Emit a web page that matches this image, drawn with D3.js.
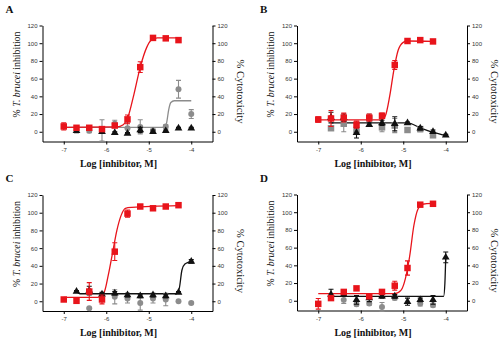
<!DOCTYPE html>
<html lang="en">
<head>
    <meta charset="UTF-8">
    <title>T. brucei inhibition vs cytotoxicity</title>
    <script src="https://d3js.org/d3.v7.min.js"></script>
    <style>
        body { margin: 0; background: #fff; }
        svg { display: block; }
        .tick text { font-family: "Liberation Sans", Arial, sans-serif; font-size: 6px; fill: #333; }
        .axis path, .axis line { stroke: #000; stroke-width: 1px; }
        .lbl { font-family: "Liberation Serif", "Times New Roman", serif; fill: #111; }
    </style>
</head>
<body>
<svg width="499" height="338"></svg>
<script>
    // concentrations (log M), 2-fold dilutions
    const logConc = [-7, -6.7, -6.4, -6.1, -5.8, -5.5, -5.2, -4.9, -4.6, -4.3, -4.0];
    const xTicks = [-7, -6, -5, -4];
    const yTicks = [0, 20, 40, 60, 80, 100, 120];

    // panel A
    const aRed = [6, 4.5, 4.5, 3, 7, 14, 73, 106, 105.5, 103.5, null];
    const aRedErr = [4, 2, 2, 2, 2, 5, 6, 2, 1.5, 2, 0];
    const aGray = [null, null, 1, 1.5, 9, 4, 5.5, 1, 6, 48, 20];
    const aGrayErr = [0, 0, 2, 12, 4, 6, 8, 3, 2, 10, 5];
    const aBlack = [null, 1, null, 0, -1, -2, 2, 0, 1, 4, 4];
    const aBlackErr = [0, 2, 0, 2, 1, 1, 3, 2, 1, 1, 1];
    const aRedFit = [[-7, 5], [-5.75, 5.5], [-5.6, 8], [-5.5, 15], [-5.35, 42], [-5.2, 73], [-5.05, 95], [-4.95, 103], [-4.8, 106], [-4.3, 106]];
    const aGrayFit = [[-7, 5], [-4.62, 5], [-4.58, 10], [-4.53, 25], [-4.48, 33], [-4.4, 35], [-4.0, 35]];

    // panel B
    const bRed = [13.8, 15, 16, 8, 16, 18, 75.5, 102.5, 103.5, 102, null];
    const bRedErr = [3, 9, 5, 4, 4, 3, 5, 2, 1, 2, 0];
    const bGray = [null, 4, 9, 2, 15, 5, 7, 2, 3, -4, null];
    const bGrayErr = [0, 2, 9, 3, 5, 5, 8, 2, 3, 2, 0];
    const bBlack = [null, 16, 16, -1, 8, 10, 9, 10, 4, 0, -4];
    const bBlackErr = [0, 6, 4, 6, 2, 3, 8, 1, 2, 2, 1];
    const bRedFit = [[-7, 13.5], [-5.5, 13.5], [-5.42, 18], [-5.32, 40], [-5.22, 70], [-5.12, 92], [-5.0, 101], [-4.9, 102.5], [-4.3, 102]];
    const bBlackFit = [[-6.7, 10], [-4.9, 10], [-4.6, 4.5], [-4.3, -0.5], [-4.0, -4.5]];

    // panel C
    const cRed = [2, 0.5, 11, 2, 56, 99, 107, 105, 107, 108.5, null];
    const cRedErr = [1, 3, 10, 5, 10, 4, 1.5, 1.5, 1.5, 1.5, 0];
    const cGray = [null, null, -8, 3, 5, 3, -2, 3, 2, 0, -2];
    const cGrayErr = [0, 0, 1, 3, 8, 5, 8, 5, 7, 1, 1];
    const cBlack = [null, 11, 12, 8, 9, 7, 6, 7, 6, 10, 45];
    const cBlackErr = [0, 1, 5, 2, 2, 2, 2, 2, 2, 1, 2];
    const cRedFit = [[-7, 4.5], [-6.2, 4.5], [-6.05, 10], [-5.95, 30], [-5.85, 55], [-5.75, 80], [-5.65, 97], [-5.55, 105], [-5.4, 106], [-4.3, 108]];
    const cBlackFit = [[-6.7, 11], [-6.62, 8.5], [-4.35, 8.5], [-4.28, 15], [-4.22, 35], [-4.15, 42], [-4.0, 45]];

    // panel D
    const dRed = [-3.5, 3, 10, 14, 5, 10, 17, 37, 108.5, 109.5, null];
    const dRedErr = [6, 2, 2, 2, 1, 2, 5, 8, 1.5, 1.5, 0];
    const dGray = [null, null, 1, -4, -3, -7, 3, null, -3, -5, null];
    const dGrayErr = [0, 0, 4, 2, 2, 5, 2, 0, 3, 2, 0];
    const dBlack = [null, 7, 7, 1, 3, 5, 5, -1, 1, 1, 49];
    const dBlackErr = [0, 6, 2, 5, 4, 2, 2, 4, 2, 5, 6];
    const dRedFit = [[-7, 8], [-5.2, 8], [-5.05, 12], [-4.95, 25], [-4.85, 50], [-4.75, 85], [-4.65, 104], [-4.55, 109], [-4.3, 110]];
    const dBlackFit = [[-6.7, 5], [-4.05, 5], [-4.02, 20], [-4.0, 50]];

    const RED = "#e8141b", GRAY = "#8c8c8c", BLACK = "#111";
    const W = 170, H = 116;

    const panels = [
        { tag: "A", left: 42.5, top: 25.5, red: aRed, redErr: aRedErr, gray: aGray, grayErr: aGrayErr, grayShape: "circle",
          black: aBlack, blackErr: aBlackErr, fits: [[aGrayFit, GRAY], [aRedFit, RED]] },
        { tag: "B", left: 297, top: 25.5, red: bRed, redErr: bRedErr, gray: bGray, grayErr: bGrayErr, grayShape: "square",
          black: bBlack, blackErr: bBlackErr, fits: [[bBlackFit, BLACK], [bRedFit, RED]] },
        { tag: "C", left: 42.5, top: 195, red: cRed, redErr: cRedErr, gray: cGray, grayErr: cGrayErr, grayShape: "circle",
          black: cBlack, blackErr: cBlackErr, fits: [[cBlackFit, BLACK], [cRedFit, RED]] },
        { tag: "D", left: 297, top: 194.5, red: dRed, redErr: dRedErr, gray: dGray, grayErr: dGrayErr, grayShape: "circle",
          black: dBlack, blackErr: dBlackErr, fits: [[dBlackFit, BLACK], [dRedFit, RED]] }
    ];

    const svg = d3.select("svg");
    const x = d3.scaleLinear().domain([-7.5, -3.5]).range([0, W]);
    const y = d3.scaleLinear().domain([-11, 120]).range([H, 0]);
    const line = d3.line().x(d => x(d[0])).y(d => y(d[1])).curve(d3.curveMonotoneX);

    panels.forEach(p => {
        const g = svg.append("g").attr("transform", `translate(${p.left},${p.top})`);

        // axes
        g.append("g").attr("class", "axis")
            .call(d3.axisLeft(y).tickValues(yTicks).tickSize(3).tickSizeOuter(0).tickPadding(2));
        g.append("g").attr("class", "axis").attr("transform", `translate(${W},0)`)
            .call(d3.axisRight(y).tickValues(yTicks).tickSize(3).tickSizeOuter(0).tickPadding(2));
        g.append("g").attr("class", "axis").attr("transform", `translate(0,${H})`)
            .call(d3.axisBottom(x).tickValues(xTicks).tickSize(3).tickSizeOuter(0).tickPadding(3)
                .tickFormat(d => String(d)));

        // fitted curves
        p.fits.forEach(([pts, col]) => {
            g.append("path").attr("d", line(pts))
                .attr("fill", "none").attr("stroke", col).attr("stroke-width", 1.3);
        });

        // series: gray, black, red
        const series = [
            { v: p.gray, e: p.grayErr, col: GRAY, shape: p.grayShape },
            { v: p.black, e: p.blackErr, col: BLACK, shape: "triangle" },
            { v: p.red, e: p.redErr, col: RED, shape: "square" }
        ];
        series.forEach(s => {
            const pts = logConc.map((c, i) => ({ c, v: s.v[i], e: s.e[i] })).filter(d => d.v !== null);
            const sg = g.append("g");
            // error bars
            pts.filter(d => d.e > 0).forEach(d => {
                const x0 = x(d.c), y1 = y(d.v + d.e), y2 = y(d.v - d.e);
                sg.append("path")
                    .attr("d", `M${x0},${y1}V${y2}M${x0 - 2.5},${y1}H${x0 + 2.5}M${x0 - 2.5},${y2}H${x0 + 2.5}`)
                    .attr("stroke", s.col).attr("stroke-width", 1.1).attr("fill", "none");
            });
            const sym = s.shape === "square" ? d3.symbolSquare : s.shape === "triangle" ? d3.symbolTriangle : d3.symbolCircle;
            const size = s.shape === "square" ? 42 : s.shape === "triangle" ? 26 : 28;
            sg.selectAll("path.pt").data(pts).join("path").attr("class", "pt")
                .attr("transform", d => `translate(${x(d.c)},${y(d.v)})`)
                .attr("d", d3.symbol(sym, size))
                .attr("fill", s.col);
        });

        // labels
        svg.append("text").attr("class", "lbl")
            .attr("x", p.left - 37).attr("y", p.top - 13)
            .attr("font-size", 11).attr("font-weight", "bold").text(p.tag);

        const yl = svg.append("text").attr("class", "lbl")
            .attr("transform", `translate(${p.left - 23},${p.top + 49}) rotate(-90)`)
            .attr("text-anchor", "middle").attr("font-size", 9.8);
        yl.append("tspan").text("% ");
        yl.append("tspan").attr("font-style", "italic").text("T. brucei");
        yl.append("tspan").text(" inhibition");

        svg.append("text").attr("class", "lbl")
            .attr("transform", `translate(${p.left + W + 24},${p.top + 66}) rotate(90)`)
            .attr("text-anchor", "middle").attr("font-size", 10.5)
            .text("% Cytotoxicity");

        svg.append("text").attr("class", "lbl")
            .attr("x", p.left + 76).attr("y", p.top + H + 25)
            .attr("text-anchor", "middle").attr("font-size", 10).attr("font-weight", "bold")
            .text("Log [inhibitor, M]");
    });
</script>
</body>
</html>
